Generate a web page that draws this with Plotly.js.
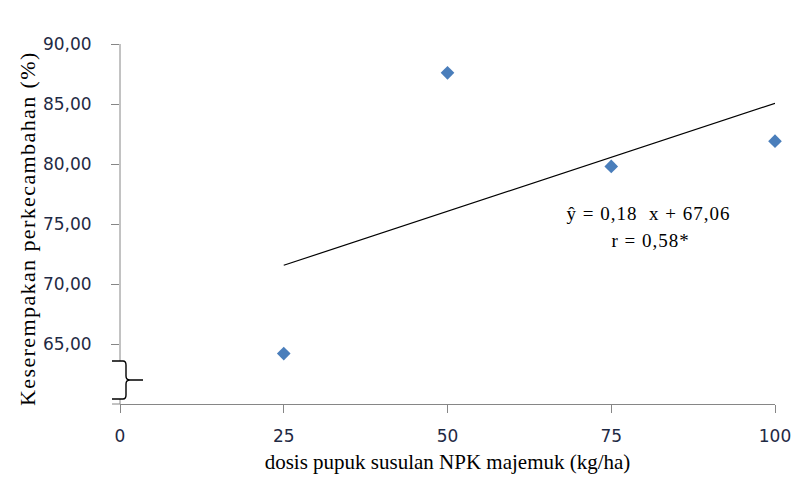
<!DOCTYPE html>
<html><head><meta charset="utf-8">
<script src="https://cdn.plot.ly/plotly-3.0.1.min.js"></script>
<style>html,body{margin:0;padding:0;background:#fff}#c{width:792px;height:486px}</style>
</head><body><div id="c"></div>
<script>
const doses = [25, 50, 75, 100];
const uniformity = [64.2, 87.6, 79.8, 81.9];
const slope = 0.18;
const intercept = 67.06;
const trendX = [25, 100];
const yTicks = [65, 70, 75, 80, 85, 90];
const xTicks = [0, 25, 50, 75, 100];

const L = 120, R = 17, T = 44, B = 82, W = 792, H = 486;
const pw = W - L - R, ph = H - T - B;
const px = x => (x - L) / pw;
const py = y => (H - B - y) / ph;

const trace1 = {x: doses, y: uniformity, type: 'scatter', mode: 'markers',
  marker: {symbol: 'diamond', size: 10.5, color: '#4a7ebb'}, cliponaxis: false, showlegend: false};
const trace2 = {x: trendX, y: trendX.map(v => slope * v + intercept), type: 'scatter', mode: 'lines',
  line: {color: '#000', width: 1.2}, showlegend: false};

const brace = `M ${px(112)},${py(361)} L ${px(123)},${py(361)} Q ${px(126)},${py(361)} ${px(126)},${py(365)} L ${px(126)},${py(376)} Q ${px(126)},${py(380)} ${px(130)},${py(380)} L ${px(143)},${py(380)} L ${px(130)},${py(380)} Q ${px(126)},${py(380)} ${px(126)},${py(384)} L ${px(126)},${py(395)} Q ${px(126)},${py(399)} ${px(123)},${py(399)} L ${px(112)},${py(399)}`;

const tickFont = {family: 'DejaVu Sans, Verdana, sans-serif', size: 17, color: '#1f2a44'};
const serif = 'Liberation Serif, Times New Roman, serif';

const layout = {
  width: W, height: H,
  margin: {l: L, r: R, t: T, b: B, pad: 0},
  paper_bgcolor: '#fff', plot_bgcolor: '#fff',
  separators: ',.',
  xaxis: {range: [0, 100], tickvals: xTicks, ticks: 'outside', ticklen: 8, tickcolor: '#868686',
    showline: true, linecolor: '#868686', linewidth: 1, showgrid: false, zeroline: false,
    tickfont: tickFont, ticklabelstandoff: 9,
    title: {text: 'dosis pupuk susulan NPK majemuk (kg/ha)', standoff: 8,
      font: {family: serif, size: 21, color: '#000'}}},
  yaxis: {range: [60, 90], tickvals: yTicks, tickformat: '.2f', ticks: 'outside', ticklen: 8, tickcolor: '#868686',
    showline: false, showgrid: false, zeroline: false,
    tickfont: tickFont, ticklabelstandoff: 16},
  shapes: [
    {type: 'line', xref: 'paper', yref: 'paper', x0: 0, x1: 0, y0: py(361), y1: 1, line: {color: '#868686', width: 1}},
    {type: 'line', xref: 'paper', yref: 'paper', x0: 0, x1: 0, y0: 0, y1: py(399), line: {color: '#868686', width: 1}},
    {type: 'line', xref: 'paper', yref: 'paper', x0: px(112), x1: 0, y0: 0, y1: 0, line: {color: '#868686', width: 1}},
    {type: 'path', xref: 'paper', yref: 'paper', path: brace, line: {color: '#000', width: 1.4}}
  ],
  annotations: [
    {xref: 'paper', yref: 'paper', x: px(28), y: py(229), xanchor: 'center', yanchor: 'middle', showarrow: false,
      textangle: -90, text: 'Keserempakan perkecambahan (%)', font: {family: serif, size: 22, color: '#000'}},
    {xref: 'paper', yref: 'paper', x: px(648), y: py(213), xanchor: 'center', yanchor: 'middle', showarrow: false,
      text: 'ŷ = 0,18  x + 67,06', font: {family: serif, size: 19, color: '#000'}},
    {xref: 'paper', yref: 'paper', x: px(650), y: py(240), xanchor: 'center', yanchor: 'middle', showarrow: false,
      text: 'r = 0,58*', font: {family: serif, size: 19, color: '#000'}}
  ]
};
Plotly.newPlot('c', [trace2, trace1], layout, {displayModeBar: false, staticPlot: true}).then(gd => {
  gd.querySelectorAll('.annotation-text').forEach((t, i) => t.style.letterSpacing = i === 0 ? '1.4px' : '1px');
});
</script></body></html>
